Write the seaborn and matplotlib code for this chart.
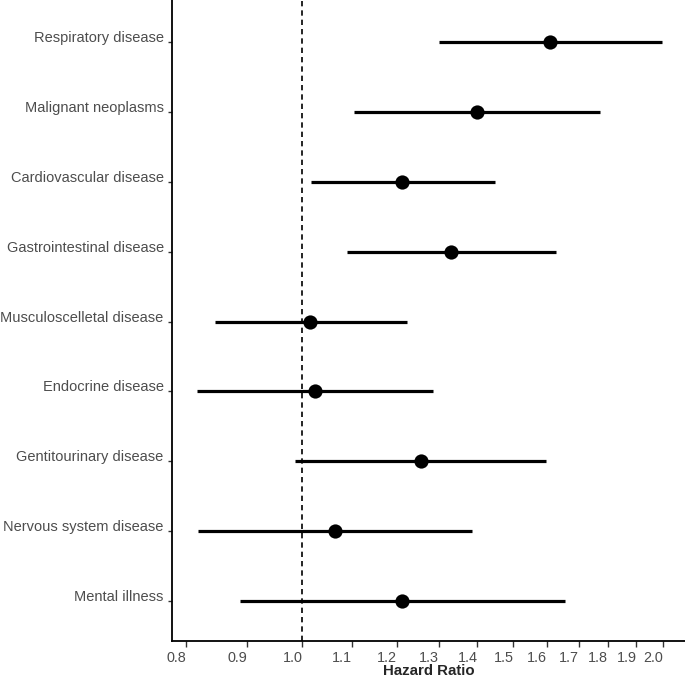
import numpy as np
import pandas as pd
import matplotlib
matplotlib.use("Agg")
import matplotlib.pyplot as plt
import seaborn as sns

# ---------------------------------------------------------------------------
# Data
# ---------------------------------------------------------------------------

diseases = [
    "Respiratory disease",
    "Malignant neoplasms",
    "Cardiovascular disease",
    "Gastrointestinal disease",
    "Musculoscelletal disease",
    "Endocrine disease",
    "Gentitourinary disease",
    "Nervous system disease",
    "Mental illness",
]
hazard_ratio = [1.61, 1.40, 1.21, 1.33, 1.015, 1.025, 1.255, 1.065, 1.21]
ci_low = [1.30, 1.105, 1.016, 1.09, 0.846, 0.817, 0.987, 0.818, 0.888]
ci_high = [1.995, 1.77, 1.448, 1.627, 1.222, 1.285, 1.597, 1.384, 1.657]

x_ticks = [0.8, 0.9, 1.0, 1.1, 1.2, 1.3, 1.4, 1.5, 1.6, 1.7, 1.8, 1.9, 2.0]

df = pd.DataFrame({
    "disease": diseases,
    "hr": hazard_ratio,
    "low": ci_low,
    "high": ci_high,
})
df["pos"] = np.arange(len(df))

# ---------------------------------------------------------------------------
# Plot
# ---------------------------------------------------------------------------

sns.set_style("white")
plt.rcParams["font.family"] = ["Liberation Sans", "DejaVu Sans"]

fig = plt.figure(figsize=(6.85, 6.78), dpi=100)
ax = fig.add_axes([172 / 685, 37 / 678, 513 / 685, 641 / 678])
ax.set_xscale("log")

ax.axvline(1.0, color="black", linestyle=(0, (3.2, 2.4)), linewidth=1.2, zorder=1)
ax.hlines(df["pos"], df["low"], df["high"], color="black", linewidth=2.3, zorder=2)
sns.scatterplot(data=df, x="hr", y="pos", s=105, color="black",
                edgecolor="black", linewidth=0, ax=ax, zorder=3, legend=False)

ax.set_xlim(0.7786, 2.0855)
ax.set_ylim(len(df) - 0.43, -0.6)

ax.xaxis.set_minor_locator(matplotlib.ticker.NullLocator())
ax.set_xticks(x_ticks)
ax.set_xticklabels([f"{v:.1f}" for v in x_ticks], ha="right")
ax.set_yticks(df["pos"])
ax.set_yticklabels(df["disease"], va="baseline")

ax.tick_params(axis="x", bottom=True, direction="out", length=4, width=1,
               color="#333333", labelsize=10.4, labelcolor="#4D4D4D", pad=3)
ax.tick_params(axis="y", left=True, direction="out", length=3, width=1,
               color="#333333", labelsize=10.5, labelcolor="#4D4D4D", pad=3)

ax.set_xlabel("Hazard Ratio", fontsize=10.8, fontweight="bold", labelpad=-0.5)
ax.set_ylabel("")

for side in ["top", "right"]:
    ax.spines[side].set_visible(False)
for side in ["left", "bottom"]:
    ax.spines[side].set_color("black")
    ax.spines[side].set_linewidth(1.3)

fig.savefig("out.png", dpi=100)
plt.close(fig)
